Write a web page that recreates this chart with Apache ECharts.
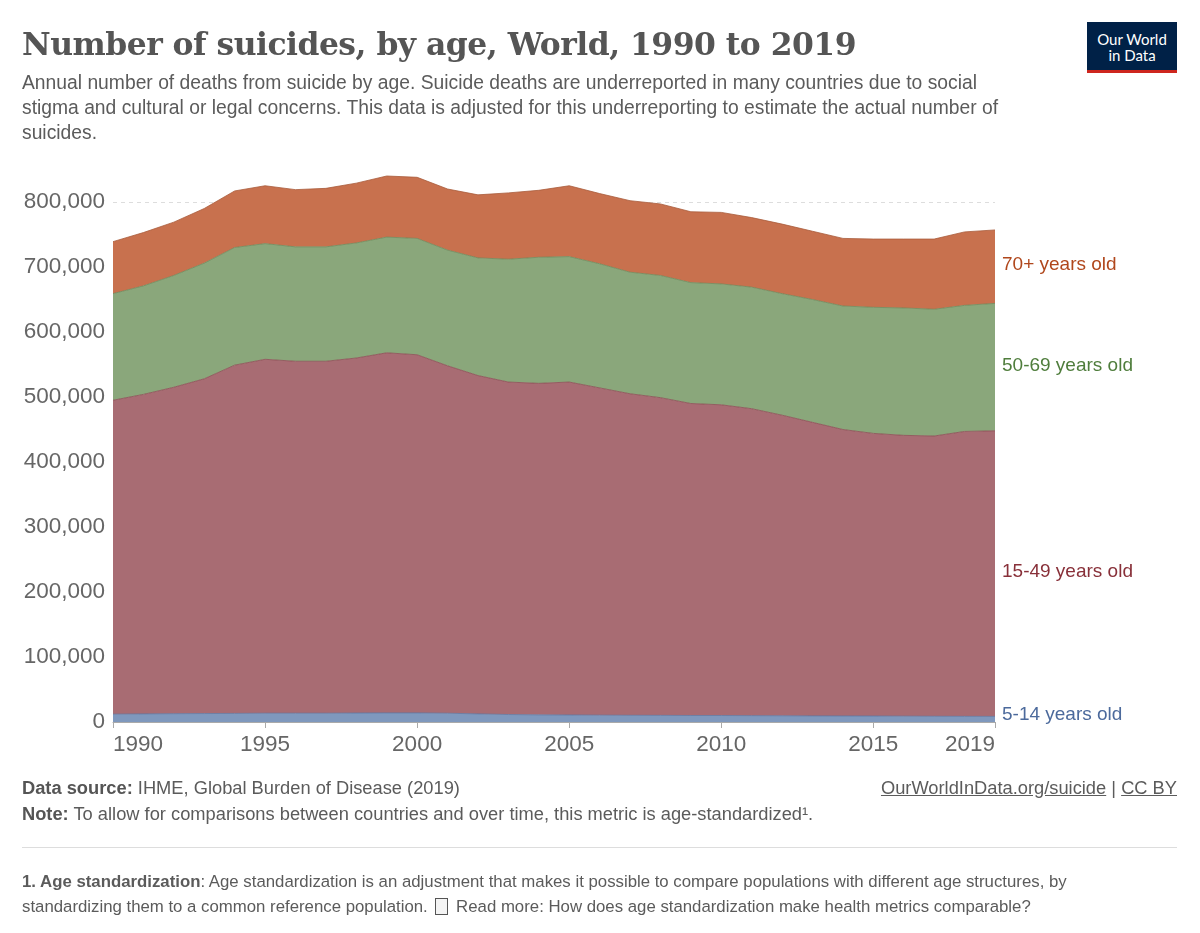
<!DOCTYPE html>
<html>
<head>
<meta charset="utf-8">
<script src="https://cdn.jsdelivr.net/npm/echarts@6/dist/echarts.min.js"></script>
<style>
  html, body { margin: 0; padding: 0; background: #fff; }
  #wrap { position: relative; width: 1200px; height: 933px; overflow: hidden; }
  #chart { position: absolute; left: 0; top: 0; width: 1200px; height: 933px; }
  .txt { position: absolute; color: #5b5b5b; font-family: "Liberation Sans", Arial, sans-serif; }
  #title { left: 22px; top: 26px; font-family: "DejaVu Serif", Georgia, serif; font-weight: bold; font-size: 31.4px; color: #555; letter-spacing: -0.5px; }
  #subtitle { left: 22px; top: 70px; width: 1010px; font-size: 19.3px; line-height: 25px; color: #5b5b5b; }
  #logo { position: absolute; left: 1087px; top: 22px; width: 90px; height: 51px; background: #002147; border-bottom: 3px solid #ce261e; box-sizing: border-box;
          color: #fff; font-family: Lato, "Noto Sans", sans-serif; font-size: 15px; line-height: 16px; text-align: center; padding-top: 9px; }
  .foot { font-size: 18.3px; color: #5b5b5b; }
  .foot b { color: #555; }
  #src { left: 22px; top: 777px; }
  #link { right: 23px; top: 777px; }
  #link u { text-decoration: underline; }
  #note { left: 22px; top: 803px; }
  #sep { position: absolute; left: 22px; top: 847px; width: 1155px; height: 1px; background: #ddd; }
  #fn { left: 22px; top: 869px; width: 1090px; font-size: 16.8px; line-height: 25px; }
  .doc { display: inline-block; width: 13px; height: 17px; border: 1px solid #555; background: #f4f4f4; vertical-align: -3px; margin: 0 3px; box-sizing: border-box; }
</style>
</head>
<body>
<div id="wrap">
  <div id="chart"></div>
  <div class="txt" id="title">Number of suicides, by age, World, 1990 to 2019</div>
  <div class="txt" id="subtitle">Annual number of deaths from suicide by age. Suicide deaths are underreported in many countries due to social stigma and cultural or legal concerns. This data is adjusted for this underreporting to estimate the actual number of suicides.</div>
  <div id="logo">Our World<br>in Data</div>
  <div class="txt foot" id="src"><b>Data source:</b> IHME, Global Burden of Disease (2019)</div>
  <div class="txt foot" id="link"><u>OurWorldInData.org/suicide</u> | <u>CC BY</u></div>
  <div class="txt foot" id="note"><b>Note:</b> To allow for comparisons between countries and over time, this metric is age-standardized¹.</div>
  <div id="sep"></div>
  <div class="txt" id="fn"><b>1. Age standardization</b>: Age standardization is an adjustment that makes it possible to compare populations with different age structures, by standardizing them to a common reference population. <span class="doc"></span> Read more: How does age standardization make health metrics comparable?</div>
</div>
<script>
'use strict';

// 年份
const years = [];
for (let y = 1990; y <= 2019; y++) years.push(String(y));

// 各年龄组自杀人数
const age5to14 = [12000, 12500, 12800, 13000, 13200, 13500, 13500, 13500, 13800, 14000,
    14000, 13500, 12500, 11500, 11000, 10800, 10500, 10300, 10200, 10000,
    10000, 9800, 9600, 9400, 9300, 9200, 9000, 8800, 8700, 8600];
const age15to49 = [483000, 491500, 502200, 515000, 535800, 544500, 541500, 541500, 546200, 554000,
    551000, 534500, 520500, 511500, 510000, 512200, 503500, 494700, 488800, 480000,
    478000, 472200, 462400, 451600, 440700, 434800, 432000, 431200, 438300, 439400];
const age50to69 = [164000, 167000, 172000, 178000, 181000, 178000, 176000, 176000, 177000, 178000,
    179000, 178000, 181000, 189000, 194000, 193000, 191000, 187000, 188000, 186000,
    186000, 187000, 187000, 189000, 190000, 194000, 196000, 195000, 194000, 196000];
const age70plus = [80000, 82000, 82000, 84000, 87000, 89000, 88000, 90000, 92000, 94000,
    94000, 94000, 97000, 102000, 103000, 109000, 108000, 110000, 110000, 109000,
    110000, 107000, 107000, 105000, 104000, 105000, 106000, 108000, 113000, 113000];

const shownYears = ['1990', '1995', '2000', '2005', '2010', '2015', '2019'];

const groups = [
    { name: '5-14 years old', data: age5to14, fill: '#7f98bd', line: '#5d77a3', text: '#4c6a9c' },
    { name: '15-49 years old', data: age15to49, fill: '#a86c73', line: '#8a4a52', text: '#883039' },
    { name: '50-69 years old', data: age50to69, fill: '#8aa77b', line: '#6a8a5a', text: '#4f7d3c' },
    { name: '70+ years old', data: age70plus, fill: '#c8714e', line: '#a85a3a', text: '#b0471c' }
];

const chart = echarts.init(document.getElementById('chart'));

const showYear = (idx, val) => shownYears.indexOf(val) >= 0;

const option = {
    animation: false,
    grid: { left: 113, right: 205, top: 202, bottom: 211 },
    xAxis: {
        type: 'category',
        data: years,
        boundaryGap: false,
        axisLine: { lineStyle: { color: '#aaa' } },
        axisTick: { show: true, interval: showYear, length: 6, lineStyle: { color: '#aaa' } },
        axisLabel: {
            interval: showYear,
            color: '#666',
            fontSize: 22.5,
            fontFamily: 'Liberation Sans, Arial, sans-serif',
            margin: 11,
            alignMinLabel: 'left',
            alignMaxLabel: 'right'
        },
        splitLine: { show: false }
    },
    yAxis: {
        type: 'value',
        min: 0,
        max: 800000,
        interval: 100000,
        axisLine: { show: false },
        axisTick: { show: false },
        axisLabel: {
            color: '#666',
            fontSize: 22.5,
            fontFamily: 'Liberation Sans, Arial, sans-serif',
            margin: 8,
            formatter: v => v.toLocaleString('en-US')
        },
        splitLine: { lineStyle: { color: '#ddd', type: [4, 4] } }
    },
    series: groups.map(g => ({
        name: g.name,
        type: 'line',
        stack: 'total',
        data: g.data,
        symbol: 'none',
        clip: false,
        lineStyle: { width: 0.8, color: g.line },
        areaStyle: { color: g.fill, opacity: 1 },
        emphasis: { disabled: true }
    }))
};
chart.setOption(option);

// 右侧标签：放在每个区域在2019年的中间位置
let base = 0;
const last = years.length - 1;
const labels = groups.map(g => {
    const v = g.data[last];
    const mid = base + v / 2;
    base += v;
    const p = chart.convertToPixel({ gridIndex: 0 }, [years[last], mid]);
    return {
        type: 'text',
        left: p[0] + 7,
        top: p[1] - 11,
        style: {
            text: g.name,
            fill: g.text,
            fontSize: 19,
            fontFamily: 'Liberation Sans, Arial, sans-serif'
        }
    };
});
// 5-14 太窄，标签往上移一点
labels[0].top -= 3;
chart.setOption({ graphic: labels });
</script>
</body>
</html>
